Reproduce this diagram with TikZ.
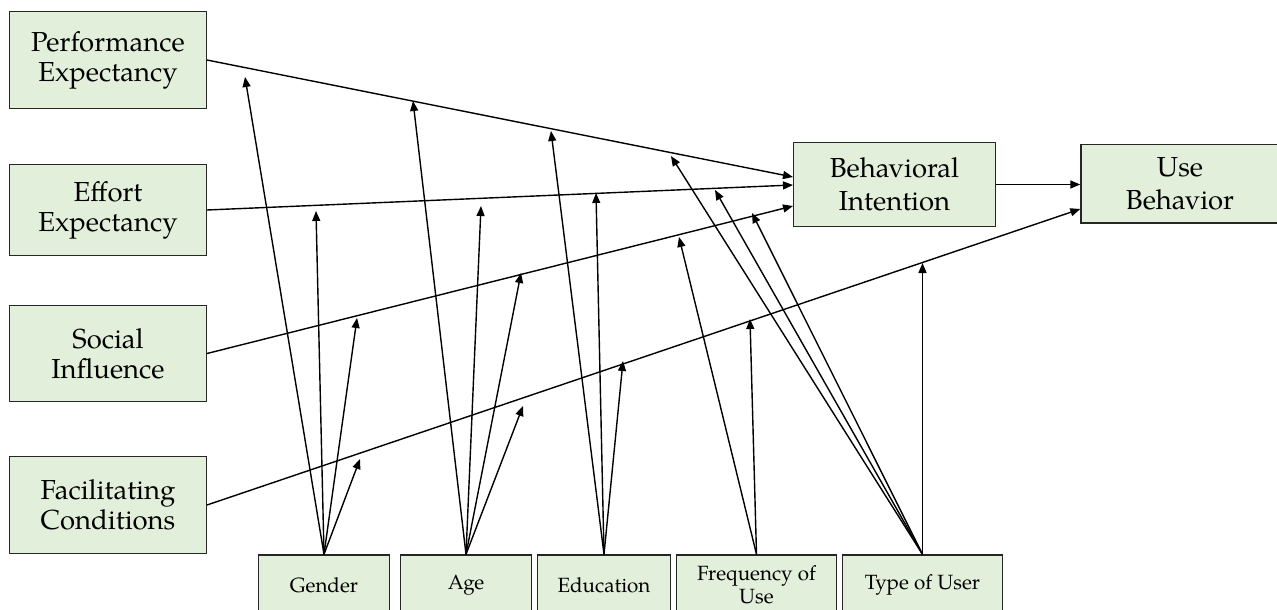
\documentclass[tikz,border=0pt]{standalone}
\usepackage{fontspec}
\setmainfont{TeX Gyre Pagella}
\usetikzlibrary{arrows.meta,calc}
\definecolor{boxfill}{HTML}{E2EFDA}
\definecolor{boxline}{HTML}{262626}
\begin{document}
\begin{tikzpicture}[x=1pt,y=-1pt,
  box/.style={draw=boxline, fill=boxfill, line width=1.4pt, inner sep=0pt, align=center,
    font=\fontsize{27.5}{30}\selectfont},
  wide/.style={box, font=\fontsize{27.5}{33}\selectfont},
  small/.style={box, font=\fontsize{20.6}{23}\selectfont},
  arr/.style={-{Triangle[length=10pt,width=8pt]}, line width=1.4pt, black},
]
\useasboundingbox (0,0) rectangle (1277,610);
% main constructs
\node[box, minimum width=196.6pt, minimum height=96.6pt] (pe) at (108,60) {Performance\\Expectancy};
\node[box, minimum width=196.6pt, minimum height=90.6pt] (ee) at (108,210) {Effort\\Expectancy};
\node[box, minimum width=196.6pt, minimum height=95.6pt] (si) at (108,353.5) {Social\\Influence};
\node[box, minimum width=196.6pt, minimum height=96.6pt] (fc) at (108,505) {Facilitating\\Conditions};
\node[wide, minimum width=201.6pt, minimum height=83.6pt] (bi) at (894.5,184.5) {Behavioral\\Intention};
\node[wide, minimum width=198pt, minimum height=78.6pt] (ub) at (1180,183.5) {Use\\Behavior};
% moderators
\node[small, minimum width=130.6pt, minimum height=60pt] (gen) at (324,585) {Gender};
\node[small, minimum width=130.6pt, minimum height=60pt] (age) at (466,585) {Age};
\node[small, minimum width=132.6pt, minimum height=60pt] (edu) at (604,585) {Education};
\node[small, minimum width=159.6pt, minimum height=60pt] (fou) at (756.5,585) {Frequency of\\Use};
\node[small, minimum width=159.6pt, minimum height=60pt] (tou) at (922.5,585) {Type of User};
% main paths
\draw[arr] (pe.east) -- ($(bi.west)+(0,-7.5)$);
\draw[arr] (ee.east) -- ($(bi.west)+(0,0.5)$);
\draw[arr] (si.east) -- ($(bi.west)+(0,21.5)$);
\draw[arr] (fc.east) -- ($(ub.west)+(0,25.5)$);
\draw[arr] (bi.east) -- (bi.east -| ub.west);
% moderator targets
\coordinate (g1) at (245,77);
\coordinate (g2) at (316,211);
\coordinate (g3) at (357,318);
\coordinate (g4) at (360,459);
\coordinate (a1) at (413,101);
\coordinate (a2) at (481,206);
\coordinate (a3) at (521,273);
\coordinate (a4) at (523,406);
\coordinate (e1) at (551,131);
\coordinate (e2) at (596,193);
\coordinate (e3) at (623,361);
\coordinate (f1) at (679,237);
\coordinate (f2) at (750,319);
\coordinate (t1) at (671,156);
\coordinate (t2) at (715,190);
\coordinate (t3) at (752,213);
\coordinate (t4) at (922.5,263);
\foreach \t in {g1,g2,g3,g4} \draw[arr] (gen.north) -- (\t);
\foreach \t in {a1,a2,a3,a4} \draw[arr] (age.north) -- (\t);
\foreach \t in {e1,e2,e3} \draw[arr] (edu.north) -- (\t);
\foreach \t in {f1,f2} \draw[arr] (fou.north) -- (\t);
\foreach \t in {t1,t2,t3,t4} \draw[arr] (tou.north) -- (\t);
\end{tikzpicture}
\end{document}
